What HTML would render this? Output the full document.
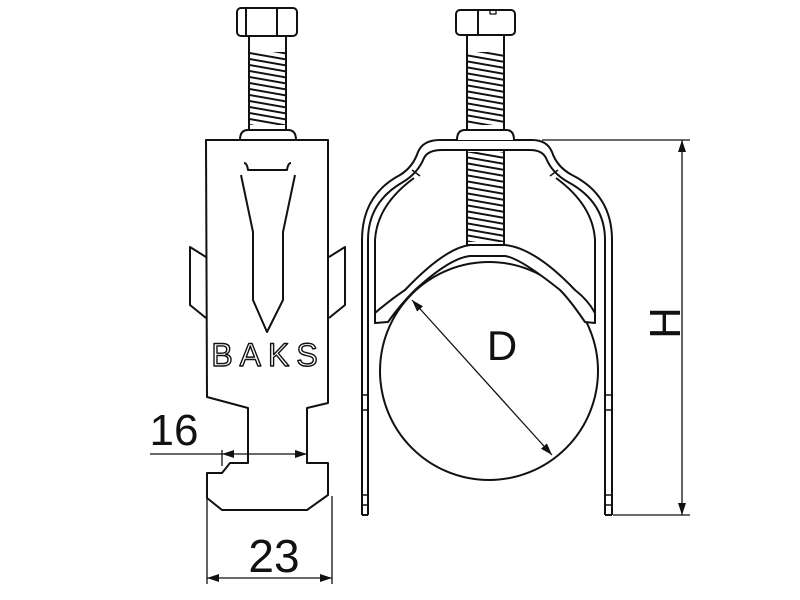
<!DOCTYPE html>
<html><head><meta charset="utf-8"><style>html,body{margin:0;padding:0;background:#fff}svg{display:block}</style></head><body>
<svg width="800" height="600" viewBox="0 0 800 600" xmlns="http://www.w3.org/2000/svg" font-family="Liberation Sans, sans-serif">
<defs>
<marker id="a" viewBox="0 0 12 8" refX="12" refY="4" markerWidth="12" markerHeight="8" orient="auto-start-reverse" markerUnits="userSpaceOnUse"><path d="M0,0 L12,4 L0,8 z" fill="#111"/></marker>
<pattern id="th" width="10" height="6" patternUnits="userSpaceOnUse" patternTransform="skewY(10)"><line x1="0" y1="3" x2="10" y2="3" stroke="#111" stroke-width="2"/></pattern>
</defs>
<g fill="none" stroke="#111" stroke-width="2" stroke-linejoin="round">
<!-- LEFT VIEW -->
<rect x="237" y="8" width="60" height="28" rx="4" fill="#fff"/>
<line x1="246" y1="9" x2="246" y2="35"/><line x1="277" y1="9" x2="277" y2="35"/>
<rect x="249" y="36" width="37" height="94" fill="#fff"/>
<rect x="250" y="52" width="35" height="73" fill="url(#th)" stroke="none"/>
<path d="M240,140 Q240,130 248,130 L288,130 Q296,130 296,140"/>
<path d="M206,140 L328,140 L328,403 L307,408 L307,463 L328,463 L328,495 L307,510 L222,510 L207,498 L207,473 L222,473 L230,463 L248,463 L248,408 L207,397 Z" fill="#fff"/>
<path d="M244,163 Q247,163 248,170 L287,170 Q288,163 291,163"/>
<path d="M241,175 L253,232 L253,300 L267,332 L283,300 L283,232 L295,175"/>
<path d="M206,257 L190,247 L190,305 L206,318"/>
<path d="M329,257 L345,247 L345,305 L329,318"/>
<text x="268" y="366" font-size="32" text-anchor="middle" letter-spacing="7" fill="#fff" stroke="#111" stroke-width="1.4">BAKS</text>
<!-- dim 16 -->
<line x1="150" y1="454" x2="222" y2="454" stroke-width="1.3"/>
<line x1="222" y1="454" x2="307" y2="454" stroke-width="1.3" marker-start="url(#a)" marker-end="url(#a)"/>
<line x1="222" y1="450" x2="222" y2="466" stroke-width="1.3"/>
<!-- dim 23 -->
<line x1="207" y1="498" x2="207" y2="584" stroke-width="1.3"/>
<line x1="332" y1="496" x2="332" y2="584" stroke-width="1.3"/>
<line x1="207" y1="578" x2="332" y2="578" stroke-width="1.3" marker-start="url(#a)" marker-end="url(#a)"/>

<!-- RIGHT VIEW -->
<path d="M362,515 L362,240 Q362,195 400,175 Q413,167 418,152 Q423,140 440,140 L532,140 Q547,140 552,152 Q557,167 572,175 Q612,195 612,240 L612,515" />
<path d="M368,515 L368,240 Q368,202 403,182 Q418,173 424,158 Q428,150 442,150 L530,150 Q542,150 546,158 Q552,173 568,182 Q605,202 605,240 L605,515"/>
<path d="M362,395 L368,395 M362,410 L368,410 M362,495 L368,495 M362,505 L368,505 M605,395 L612,395 M605,410 L612,410 M605,495 L612,495 M605,505 L612,505" stroke-width="1.5"/>
<path d="M362,515 L368,515 M605,515 L612,515"/>
<path d="M375,320 L375,240 Q377,205 414,178 M595,320 L595,240 Q593,205 556,178"/>
<path d="M412,170 L420,176 M558,170 L550,176" stroke-width="1.5"/>
<circle cx="489" cy="371" r="109" fill="#fff"/>
<path d="M375,313 Q390,300 405,290 Q445,248 470,245 L505,245 Q535,248 575,290 Q588,300 595,313 L595,323 L585,322 Q570,300 560,290 Q520,258 505,256 L470,256 Q450,258 415,290 Q400,305 388,322 L375,323 Z" fill="#fff"/>
<rect x="456" y="10" width="59" height="25" rx="4" fill="#fff"/>
<line x1="478" y1="11" x2="478" y2="34"/>
<path d="M490,10 L490,14 L496,14 L496,10" stroke-width="1.3"/>
<rect x="467" y="35" width="37" height="95" fill="#fff"/>
<rect x="468" y="52" width="35" height="73" fill="url(#th)" stroke="none"/>
<rect x="467" y="150" width="37" height="95" fill="#fff"/>
<rect x="468" y="152" width="35" height="90" fill="url(#th)" stroke="none"/>
<path d="M457,140 Q457,130 465,130 L506,130 Q514,130 514,140" fill="#fff"/>
<line x1="412" y1="300" x2="552" y2="455" stroke-width="1.3" marker-start="url(#a)" marker-end="url(#a)"/>
<line x1="542" y1="140" x2="690" y2="140" stroke-width="1.3"/>
<line x1="613" y1="515" x2="690" y2="515" stroke-width="1.3"/>
<line x1="682" y1="140" x2="682" y2="515" stroke-width="1.3" marker-start="url(#a)" marker-end="url(#a)"/>
</g>
<g fill="#111">
<text x="174" y="445" font-size="44" text-anchor="middle">16</text>
<text x="274" y="572" font-size="46" text-anchor="middle">23</text>
<text x="502" y="360" font-size="42" text-anchor="middle">D</text>
<text x="0" y="0" font-size="44" text-anchor="middle" transform="translate(680,323) rotate(-90)">H</text>
</g>
</svg>
</body></html>
